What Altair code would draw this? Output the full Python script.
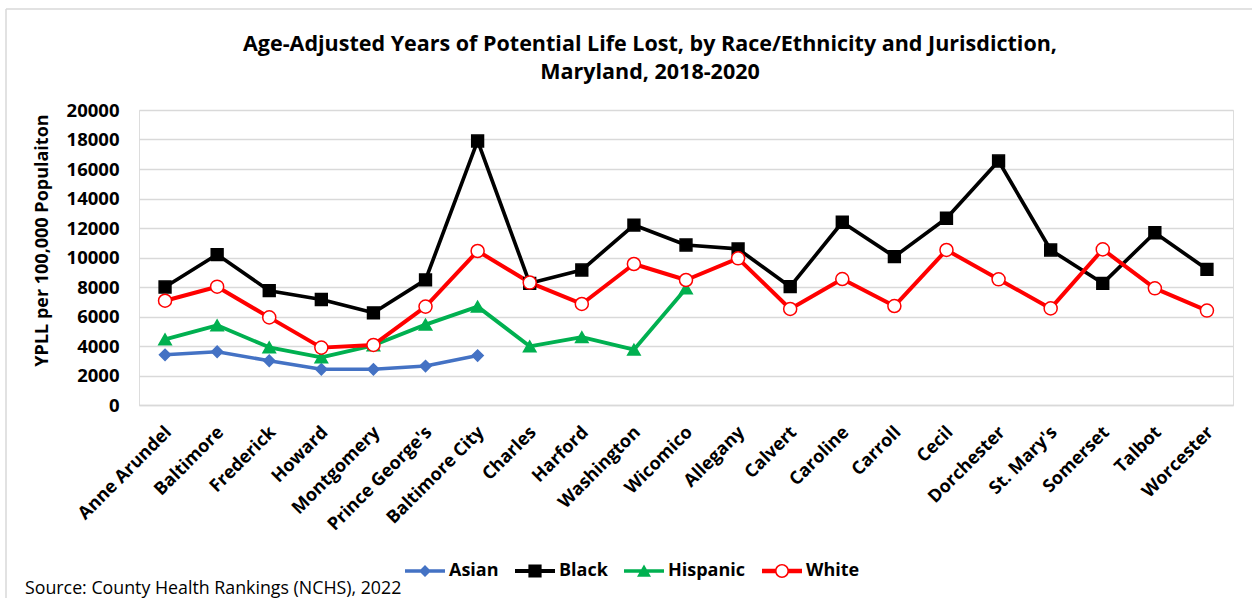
import altair as alt
import pandas as pd

# Jurisdictions along the x axis
districts = [
    "Anne Arundel", "Baltimore", "Frederick", "Howard", "Montgomery",
    "Prince George's", "Baltimore City", "Charles", "Harford", "Washington",
    "Wicomico", "Allegany", "Calvert", "Caroline", "Carroll", "Cecil",
    "Dorchester", "St. Mary's", "Somerset", "Talbot", "Worcester",
]

# Age-adjusted YPLL per 100,000 population (series with fewer values stop early)
asian = [3400, 3610, 3000, 2420, 2420, 2640, 3350]
black = [8000, 10200, 7750, 7150, 6250, 8480, 17900, 8250, 9150, 12200,
         10850, 10580, 8020, 12390, 10060, 12660, 16540, 10510, 8250, 11680, 9200]
hispanic = [4450, 5400, 3910, 3230, 4050, 5450, 6670, 3980, 4600, 3750, 7900]
white = [7070, 8020, 5940, 3890, 4070, 6670, 10440, 8300, 6850, 9560,
         8475, 9945, 6510, 8540, 6710, 10510, 8520, 6550, 10550, 7910, 6400]

series_names = ["Asian", "Black", "Hispanic", "White"]
series_values = [asian, black, hispanic, white]

title_lines = [
    "Age-Adjusted Years of Potential Life Lost, by Race/Ethnicity and Jurisdiction,",
    "Maryland, 2018-2020",
]
source_note = "Source: County Health Rankings (NCHS), 2022"
y_ticks = list(range(0, 20001, 2000))

# Styling per series
line_colors = ["#4472C4", "#000000", "#00B050", "#FF0000"]
marker_fills = ["#4472C4", "#000000", "#00B050", "#FFFFFF"]
marker_shapes = ["diamond", "square", "triangle-up", "circle"]
marker_sizes = [125, 170, 165, 155]
line_widths = [3.5, 4, 3.5, 4.5]

# Legend glyphs: a short line with the series marker on it (unit coordinates)
legend_glyphs = [
    "M-1,-0.09H1V0.09H-1Z M0,-0.3L0.3,0L0,0.3L-0.3,0Z",
    "M-1,-0.1H1V0.1H-1Z M-0.33,-0.33H0.33V0.33H-0.33Z",
    "M-1,-0.09H1V0.09H-1Z M0,-0.33L0.35,0.29H-0.35Z",
    "M-1,-0.11H-0.3V0.11H-1Z M0.3,-0.11H1V0.11H0.3Z "
    "M0.35,0A0.35,0.35 0 1,1 -0.35,0A0.35,0.35 0 1,1 0.35,0Z "
    "M0.27,0A0.27,0.27 0 1,0 -0.27,0A0.27,0.27 0 1,0 0.27,0Z",
]

rows = []
for name, vals in zip(series_names, series_values):
    for d, v in zip(districts, vals):
        rows.append({"district": d, "series": name, "yPLL": v})
df = pd.DataFrame(rows)

FONT = "Open Sans"
GRID = "#D9D9D9"
W, H = 1094, 295

x_enc = alt.X(
    "district:N", sort=districts, title=None,
    axis=alt.Axis(labelAngle=-45, labelFont=FONT, labelFontSize=18,
                  labelFontWeight="bold", labelColor="black", labelPadding=18,
                  labelOffset=-3, ticks=False, domainColor=GRID, domainWidth=1.5,
                  grid=False),
)
y_enc = alt.Y(
    "yPLL:Q", scale=alt.Scale(domain=[0, 20000], nice=False),
    title="YPLL per 100,000 Populaiton",
    axis=alt.Axis(values=y_ticks, format="d", labelFont=FONT, labelFontSize=18.5,
                  labelFontWeight="bold", labelColor="black", labelPadding=20,
                  ticks=False, domain=False, gridColor=GRID, gridWidth=1.5,
                  titleFont=FONT, titleFontSize=18, titleFontWeight="bold",
                  titleColor="black", titleX=-88, titleY=130),
)

base = alt.Chart(df).encode(x=x_enc, y=y_enc)

lines = base.mark_line(strokeJoin="round", strokeCap="round").encode(
    color=alt.Color("series:N", scale=alt.Scale(domain=series_names, range=line_colors), legend=None),
    strokeWidth=alt.StrokeWidth("series:N", scale=alt.Scale(domain=series_names, range=line_widths), legend=None),
    detail="series:N",
)

markers = base.mark_point(filled=False, opacity=1, strokeWidth=1.5).encode(
    shape=alt.Shape("series:N", scale=alt.Scale(domain=series_names, range=marker_shapes), legend=None),
    stroke=alt.Stroke("series:N", scale=alt.Scale(domain=series_names, range=line_colors), legend=None),
    fill=alt.Fill("series:N", scale=alt.Scale(domain=series_names, range=marker_fills), legend=None),
    size=alt.Size("series:N", scale=alt.Scale(domain=series_names, range=marker_sizes), legend=None),
)

legend_def = alt.Legend(
    title=None, orient="none", direction="horizontal", legendX=266, legendY=441,
    labelFont=FONT, labelFontSize=18, labelFontWeight="bold", labelColor="black",
    symbolSize=1600, symbolStrokeWidth=0, labelOffset=4, columnPadding=16,
)
legend_layer = base.mark_point(filled=True, size=0, opacity=1).encode(
    color=alt.Color("series:N", scale=alt.Scale(domain=series_names, range=line_colors), legend=legend_def),
    shape=alt.Shape("series:N", scale=alt.Scale(domain=series_names, range=legend_glyphs), legend=legend_def),
)

# Two-line heading, centred over the chart frame
heading = [
    alt.Chart(pd.DataFrame({"t": [line]})).mark_text(
        align="center", baseline="middle", font=FONT, fontSize=21.5,
        fontWeight="bold", color="black",
    ).encode(x=alt.value(511), y=alt.value(-65 + 28 * i), text="t:N")
    for i, line in enumerate(title_lines)
]

note = alt.Chart(pd.DataFrame({"note": [source_note]})).mark_text(
    align="left", baseline="middle", font=FONT, fontSize=17.8, color="black"
).encode(x=alt.value(-114), y=alt.value(479), text="note:N")

frame_df = pd.DataFrame({"k": [0]})
frame_left = alt.Chart(frame_df).mark_rule(color=GRID, strokeWidth=1.5).encode(
    x=alt.value(-133), y=alt.value(-101), y2=alt.value(488))
frame_top = alt.Chart(frame_df).mark_rule(color=GRID, strokeWidth=1.5).encode(
    x=alt.value(-133), x2=alt.value(1113), y=alt.value(-101))

chart = alt.layer(frame_left, frame_top, *heading, lines, markers, legend_layer, note).resolve_scale(
    color="independent", shape="independent"
).properties(
    width=W, height=H,
    padding={"left": 5, "top": 8, "right": 0, "bottom": 0},
).configure_view(stroke=None).configure(background="white")

chart.save("out.html", embed_options={"renderer": "svg", "actions": False})
